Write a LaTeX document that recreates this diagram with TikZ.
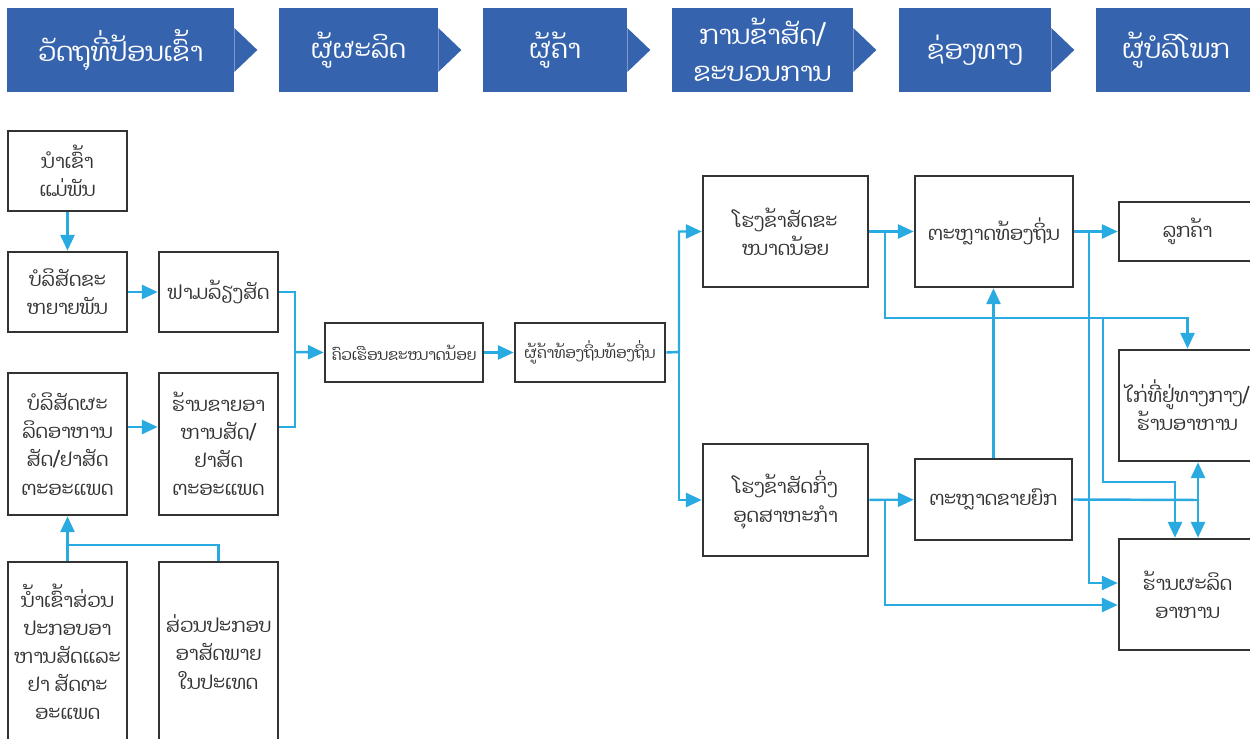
\documentclass[tikz,border=0pt]{standalone}
\usepackage{fontspec}
\setmainfont{Liberation Sans}
\newfontfamily\laofont[Script=Lao]{Dhyana}
\usetikzlibrary{arrows.meta, positioning, calc}
\definecolor{hdrblue}{RGB}{53,99,174}
\definecolor{flowblue}{RGB}{41,171,226}
\definecolor{boxgray}{RGB}{51,51,51}
\tikzset{
    % Value chain header
    hdrbox/.style={rectangle, fill=hdrblue, text=white, minimum width=#1,
                minimum height=1.68cm, inner sep=0pt, align=center,
                font=\laofont\fontsize{15}{21}\selectfont},
    % Actor boxes
    actbox/.style 2 args={rectangle, draw=boxgray, line width=1.5pt, text=boxgray,
                minimum width=#1, minimum height=#2, inner sep=1pt, align=center,
                font=\laofont\fontsize{11}{16}\selectfont},
    smalltxt/.style={font=\laofont\fontsize{8.7}{11}\selectfont},
    % Connectors
    flow/.style={-{Triangle[length=9pt, width=8pt]}, line width=1.4pt, flowblue},
    flowtwo/.style={{Triangle[length=9pt, width=8pt]}-{Triangle[length=9pt, width=8pt]},
                line width=1.4pt, flowblue},
    link/.style={line width=1.4pt, flowblue},
}
\begin{document}
\begin{tikzpicture}[x=0.02cm, y=-0.02cm]
\useasboundingbox (0,0) rectangle (1250,739);

% header
\node[hdrbox=4.54cm] (h1) at (120.5,50) {ວັດຖຸທີ່ປ້ອນເຂົ້າ};
\node[hdrbox=3.18cm] (h2) at (358.5,50) {ຜູ້ຜະລິດ};
\node[hdrbox=2.88cm] (h3) at (555,50)   {ຜູ້ຄ້າ};
\node[hdrbox=3.62cm] (h4) at (762.5,50) {ການຂ້າສັດ/\\ຂະບວນການ};
\node[hdrbox=3.04cm] (h5) at (975,50)   {ຊ່ອງທາງ};
\node[hdrbox=3.20cm] (h6) at (1176,50)  {ຜູ້ບໍລິໂພກ};
\foreach \h in {h1,h2,h3,h4,h5}
    \fill[hdrblue] ([yshift=0.44cm]\h.east) -- ([xshift=0.46cm]\h.east)
        -- ([yshift=-0.44cm]\h.east) -- cycle;

% inputs
\node[actbox={2.38cm}{1.6cm}]  (imp)  at (67.5,171)  {ນຳເຂົ້າ\\ແມ່ພັນ};
\node[actbox={2.38cm}{1.6cm}]  (brd)  at (67.5,292)  {ບໍລິສັດຂະ\\ຫຍາຍພັນ};
\node[actbox={2.38cm}{1.6cm}]  (farm) at (218.5,292) {ຟາມລ້ຽງສັດ};
\node[actbox={2.38cm}{2.84cm}] (feed) at (67.5,444)  {ບໍລິສັດຜະ\\ລິດອາຫານ\\ສັດ/ຢາສັດ\\ຕະອະແພດ};
\node[actbox={2.38cm}{2.84cm}] (shop) at (218.5,444) {ຮ້ານຂາຍອາ\\ຫານສັດ/\\ຢາສັດ\\ຕະອະແພດ};
\node[actbox={2.38cm}{3.6cm}]  (fimp) at (67.5,652)  {ນ້ຳເຂົ້າສ່ວນ\\ປະກອບອາ\\ຫານສັດແລະ\\ຢາ ສັດຕະ\\ອະແພດ};
\node[actbox={2.38cm}{3.6cm}]  (fdom) at (218.5,652) {ສ່ວນປະກອບ\\ອາສັດພາຍ\\ໃນປະເທດ};

% producers and traders
\node[actbox={3.16cm}{1.18cm}, smalltxt] (hh)  at (404,352.5) {ຄົວເຮືອນຂະໜາດນ້ອຍ};
\node[actbox={3.0cm}{1.18cm}, smalltxt]  (trd) at (590,352.5) {ຜູ້ຄ້າທ້ອງຖິ່ນທ້ອງຖິ່ນ};

% slaughter, channels, consumers
\node[actbox={3.3cm}{2.22cm}]  (ssl) at (785.5,231.5)  {ໂຮງຂ້າສັດຂະ\\ໜາດນ້ອຍ};
\node[actbox={3.3cm}{2.24cm}]  (isl) at (785.5,500)    {ໂຮງຂ້າສັດກິ່ງ\\ອຸດສາຫະກຳ};
\node[actbox={3.16cm}{2.22cm}] (lmk) at (994,231.5)    {ຕະຫຼາດທ້ອງຖິ່ນ};
\node[actbox={3.14cm}{1.62cm}] (wmk) at (993.5,499.5)  {ຕະຫຼາດຂາຍຍົກ};
\node[actbox={2.74cm}{1.18cm}] (cst) at (1187.5,231.5) {ລູກຄ້າ};
\node[actbox={2.74cm}{2.22cm}] (rst) at (1187.5,405.5) {ໄກ່ທີ່ຢູ່ທາງກາງ/\\ຮ້ານອາຫານ};
\node[actbox={2.74cm}{2.22cm}] (fpr) at (1187.5,594.5) {ຮ້ານຜະລິດ\\ອາຫານ};

% junctions
\coordinate (jf) at (68,545);
\coordinate (jl) at (295,352);
\coordinate (jt) at (679,352);
\coordinate (js) at (885,232);
\coordinate (ji) at (885,500);
\coordinate (jm) at (1089,232);
\coordinate (jr) at (1187.5,318);
\coordinate (jp) at (1103,318);
\coordinate (jq) at (1175,482);
\coordinate (jw) at (1198,500);

% left side
\draw[flow] (imp) -- (brd);
\draw[flow] (brd) -- (farm);
\draw[flow] ([yshift=0.34cm]feed.east) -- ([yshift=0.34cm]shop.west);
\draw[flow] (fimp.north) -- (feed.south);
\draw[link] (fdom.north) |- (jf);
\draw[link] (farm.east) -| (jl);
\draw[link] ([yshift=0.34cm]shop.east) -| (jl);
\draw[flow] (jl) -- (hh.west);
\draw[flow] (hh) -- (trd);
\draw[flow] (trd.east) -- (jt) |- (ssl.west);
\draw[flow] (jt) |- (isl.west);

% right side
\draw[flow] (ssl) -- (lmk);
\draw[flow] (js) |- (jr) -- (rst.north);
\draw[flow] (jp) |- (jq) -- (jq |- fpr.north);
\draw[flow] (lmk) -- (cst);
\draw[flow] (jm) |- ([yshift=0.23cm]fpr.west);
\draw[flow] (isl) -- (wmk);
\draw[flow] (ji) |- ([yshift=-0.21cm]fpr.west);
\draw[flow] (wmk.north) -- (wmk.north |- lmk.south);
\draw[link] (wmk.east) -- (jw);
\draw[flowtwo] (jw |- rst.south) -- (jw |- fpr.north);
\end{tikzpicture}
\end{document}
